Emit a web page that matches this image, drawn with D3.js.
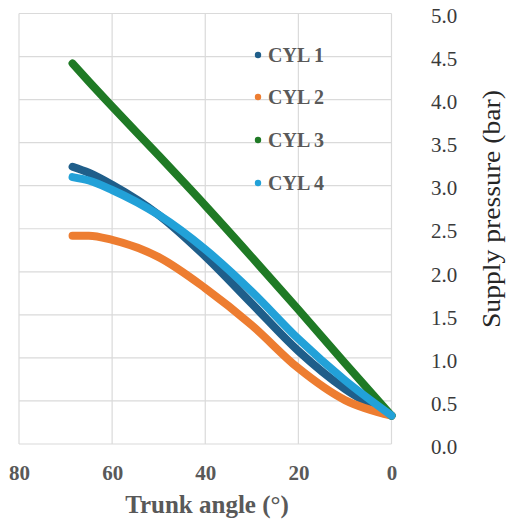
<!DOCTYPE html>
<html>
<head>
<meta charset="utf-8">
<script src="https://cdn.jsdelivr.net/npm/d3@7"></script>
<style>
  html, body { margin: 0; padding: 0; background: #fff; }
  svg { display: block; }
</style>
</head>
<body>
<svg id="chart" width="509" height="521"></svg>
<script>
// ---- data ----
const angles = [68.5, 65, 60, 50, 40, 30, 20, 10, 0];
const cyl1 = [3.22, 3.15, 3.01, 2.66, 2.18, 1.63, 1.08, 0.64, 0.33];
const cyl2 = [2.42, 2.42, 2.37, 2.17, 1.81, 1.38, 0.88, 0.51, 0.33];
const cyl3 = [4.42, 4.21, 3.92, 3.35, 2.77, 2.17, 1.56, 0.94, 0.33];
const cyl4 = [3.10, 3.06, 2.95, 2.66, 2.26, 1.77, 1.22, 0.74, 0.33];
const seriesNames = ["CYL 1", "CYL 2", "CYL 3", "CYL 4"];
const seriesValues = [cyl1, cyl2, cyl3, cyl4];
const seriesColors = ["#1f5e8a", "#ed7d31", "#1f7a25", "#22a1d8"];
const xTicks = [80, 60, 40, 20, 0];
const yTicks = [0, 0.5, 1.0, 1.5, 2.0, 2.5, 3.0, 3.5, 4.0, 4.5, 5.0];
const xTitle = "Trunk angle (°)";
const yTitle = "Supply pressure (bar)";

// ---- layout ----
const svg = d3.select("#chart");
const x = d3.scaleLinear().domain([80, 0]).range([19, 391.5]);
const y = d3.scaleLinear().domain([0, 5]).range([444, 13.5]);
const serif = "Liberation Serif, Times New Roman, serif";

// gridlines
const grid = svg.append("g");
grid.selectAll("line.h").data(yTicks).join("line")
  .attr("x1", x(80)).attr("x2", x(0))
  .attr("y1", d => y(d)).attr("y2", d => y(d))
  .attr("stroke", "#dadada").attr("stroke-width", 1.2);
grid.selectAll("line.v").data(xTicks).join("line")
  .attr("y1", y(0)).attr("y2", y(5))
  .attr("x1", d => x(d)).attr("x2", d => x(d))
  .attr("stroke", "#dadada").attr("stroke-width", 1.2);

// y tick labels (right)
const yAxis = d3.axisRight(y).tickValues(yTicks).tickFormat(d3.format(".1f")).tickSize(0).tickPadding(0);
const gy = svg.append("g").attr("transform", "translate(431,2.5)").call(yAxis);
gy.select(".domain").remove();
gy.selectAll("text").attr("font-family", serif).attr("font-size", 21).attr("fill", "#3a3a3a");

// x tick labels (bottom)
const xAxis = d3.axisBottom(x).tickValues(xTicks).tickFormat(d3.format("d")).tickSize(0).tickPadding(0);
const gx = svg.append("g").attr("transform", "translate(0,465)").call(xAxis);
gx.select(".domain").remove();
gx.selectAll("text").attr("font-family", serif).attr("font-size", 21).attr("font-weight", "bold").attr("fill", "#595959");

// titles
svg.append("text").attr("x", 207).attr("y", 513).attr("text-anchor", "middle")
  .attr("font-family", serif).attr("font-size", 25).attr("font-weight", "bold").attr("fill", "#595959")
  .text(xTitle);
svg.append("text").attr("transform", "translate(500,209) rotate(-90)").attr("text-anchor", "middle")
  .attr("font-family", serif).attr("font-size", 25).attr("fill", "#262626")
  .attr("textLength", 238).attr("lengthAdjust", "spacingAndGlyphs")
  .text(yTitle);

// lines
const line = d3.line().x(d => x(d[0])).y(d => y(d[1])).curve(d3.curveMonotoneX);
seriesValues.forEach((vals, i) => {
  const pts = angles.map((a, j) => [a, vals[j]]);
  svg.append("path").datum(pts).attr("d", line)
    .attr("fill", "none").attr("stroke", seriesColors[i])
    .attr("stroke-width", 8).attr("stroke-linecap", "round").attr("stroke-linejoin", "round");
});

// legend
const legY = [55, 97, 140, 183];
const leg = svg.append("g");
seriesNames.forEach((n, i) => {
  leg.append("circle").attr("cx", 258).attr("cy", legY[i]).attr("r", 3.2).attr("fill", seriesColors[i]);
  leg.append("text").attr("x", 268).attr("y", legY[i]).attr("dy", "0.35em")
    .attr("font-family", serif).attr("font-size", 20).attr("font-weight", "bold").attr("fill", "#595959")
    .text(n);
});
</script>
</body>
</html>
